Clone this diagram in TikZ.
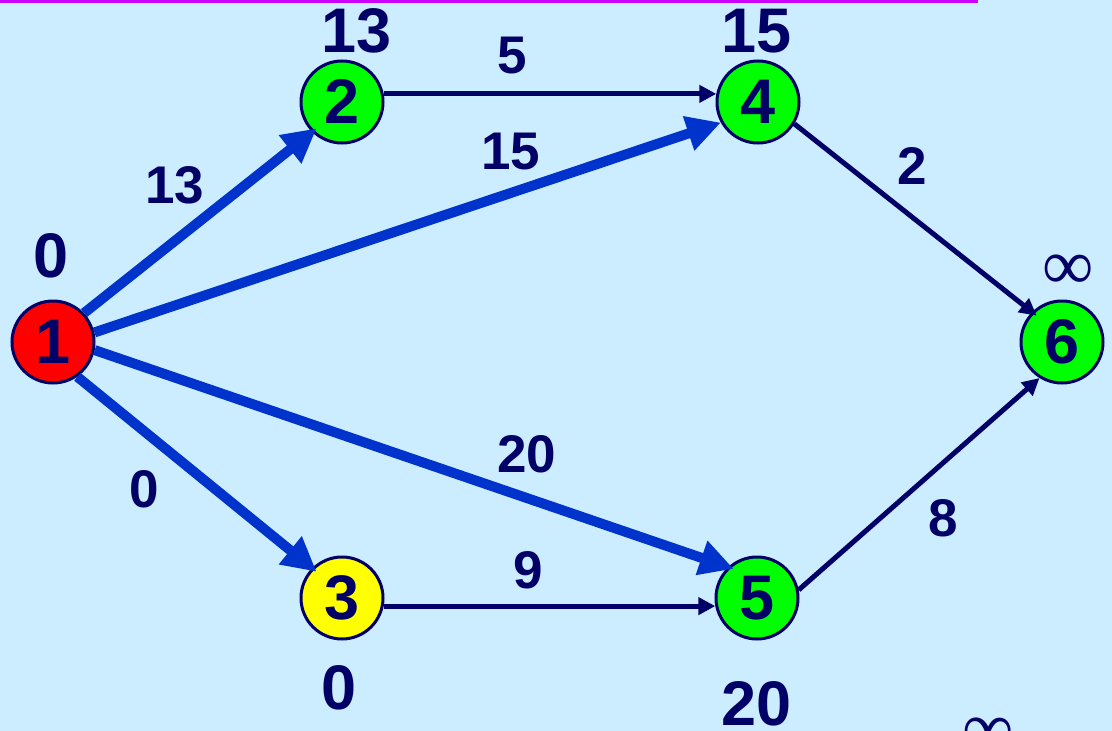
\documentclass[tikz,border=0pt]{standalone}
\usepackage{fontspec}
\setmainfont{Liberation Sans}
\newfontfamily\inffont{Liberation Serif}
\usetikzlibrary{arrows.meta}
\definecolor{bgblue}{RGB}{204,236,255}
\definecolor{navy}{RGB}{0,0,102}
\definecolor{arrblue}{RGB}{0,51,204}
\definecolor{magline}{RGB}{204,0,255}
\definecolor{ngreen}{RGB}{0,255,0}
\definecolor{nred}{RGB}{255,0,0}
\definecolor{nyellow}{RGB}{255,255,0}
\tikzset{
  vertex/.style={circle, draw=navy, line width=3pt, minimum size=82pt, inner sep=0pt,
    text=navy, font=\fontsize{63}{63}\selectfont\bfseries},
  distlabel/.style={text=navy, inner sep=0pt, font=\fontsize{63}{63}\selectfont\bfseries},
  edgelabel/.style={text=navy, inner sep=0pt, font=\fontsize{53}{53}\selectfont\bfseries},
  inflabel/.style={text=navy, inner sep=0pt, font=\fontsize{72}{72}\selectfont\inffont},
  thickarc/.style={draw=arrblue, line width=10pt, -{Triangle[length=34pt,width=34pt]}},
  thinarc/.style={draw=navy, line width=5pt, -{Triangle[length=17pt,width=17pt]}}
}
\begin{document}
\begin{tikzpicture}[x=1pt,y=-1pt]
\useasboundingbox (0,0) rectangle (1112,731);
\fill[bgblue] (0,0) rectangle (1112,731);
\draw[magline, line width=3.5pt] (0,1.5) -- (978,1.5);

\node[vertex, fill=nred]    (n1) at (53,342)  {1};
\node[vertex, fill=ngreen]  (n2) at (342,102) {2};
\node[vertex, fill=nyellow] (n3) at (342,598) {3};
\node[vertex, fill=ngreen]  (n4) at (758,102) {4};
\node[vertex, fill=ngreen]  (n5) at (757,598) {5};
\node[vertex, fill=ngreen]  (n6) at (1062,342) {6};

\draw[thickarc, shorten >=-6pt] (n1.43) -- (n2.225);
\draw[thickarc] (n1.13) -- (n4.209);
\draw[thickarc, shorten >=-6pt] (n1.349) -- (n5.133);
\draw[thickarc, shorten >=-6pt] (n1.305) -- (n3.135);
\draw[thinarc] (n2.11) -- (n4.169);
\draw[thinarc] (n3.349) -- (n5.191);
\draw[thinarc, shorten >=-6pt] (n4.329) -- (n6.135);
\draw[thinarc] (n5.11) -- (n6.238);

\node[distlabel] (d2) at (357,31) {13};
\node[distlabel] (d4) at (757,31) {15};
\node[distlabel] (d1) at (51,256) {0};
\node[distlabel] (d3) at (339,688) {0};
\node[distlabel] (d5) at (757,704) {20};
\node[inflabel] (d6) at (1068,272) {∞};
\node[inflabel] (dx) at (988,735) {∞};

\node[edgelabel] (l24) at (512,56) {5};
\node[edgelabel] (l14) at (511,152) {15};
\node[edgelabel] (l12) at (175,185) {13};
\node[edgelabel] (l46) at (912,166) {2};
\node[edgelabel] (l15) at (527,454) {20};
\node[edgelabel] (l13) at (144,489) {0};
\node[edgelabel] (l35) at (528,570) {9};
\node[edgelabel] (l56) at (943,518) {8};
\end{tikzpicture}
\end{document}
